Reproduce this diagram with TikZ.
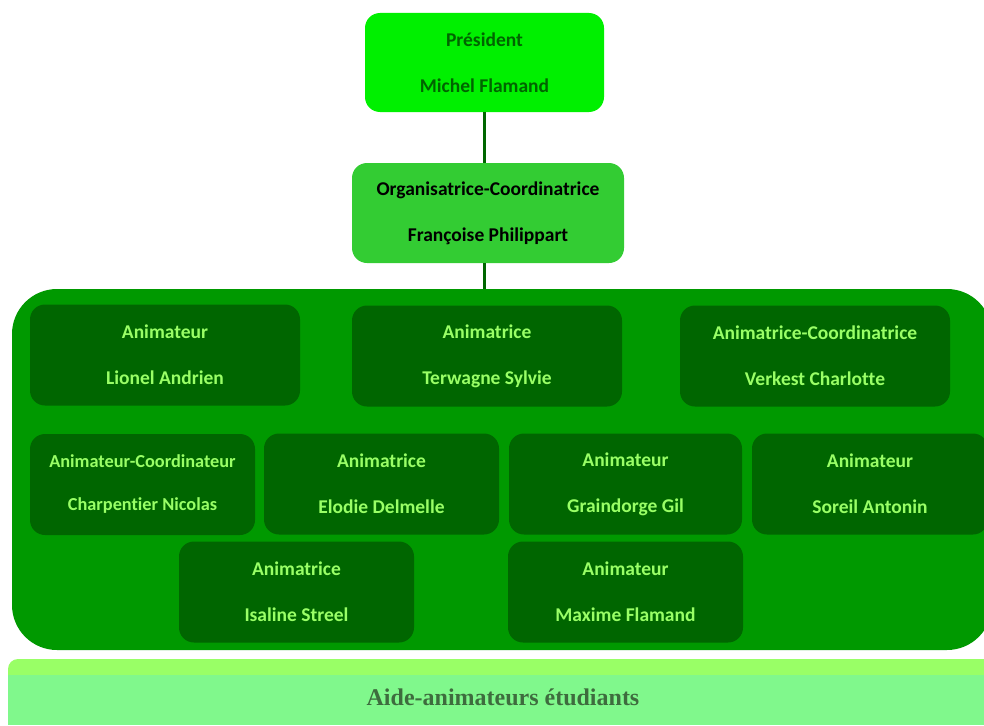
\documentclass[tikz,border=0pt]{standalone}
\usepackage{fontspec}
\setmainfont[Ligatures=NoCommon]{Carlito}
\newfontfamily\bandfont{Liberation Serif}
\usepackage{tikz}
\usetikzlibrary{%
  calc,%
  positioning%
}
\definecolor{presfill}{RGB}{0,240,0}
\definecolor{presink}{RGB}{0,100,0}
\definecolor{orgafill}{RGB}{51,204,51}
\definecolor{teamfill}{RGB}{0,153,0}
\definecolor{animfill}{RGB}{0,102,0}
\definecolor{animink}{RGB}{153,255,102}
\definecolor{bandtop}{RGB}{153,255,102}
\definecolor{bandfill}{RGB}{128,248,140}
\definecolor{bandink}{RGB}{62,108,62}

\begin{document}
\begin{tikzpicture}[x=1pt,y=-1pt,
  box/.style={rectangle,rounded corners=15pt,inner sep=0pt,align=center,
    font=\bfseries\fontsize{19.5}{46}\selectfont},
  anim/.style={box,fill=animfill,text=animink,minimum height=101pt},
  link/.style={draw=animfill,line width=3pt}]

\useasboundingbox (0,0) rectangle (984,725);
\clip (0,0) rectangle (984,725);

\node[box,fill=presfill,text=presink,minimum width=239pt,minimum height=99pt] (pres) at (484.5,62.5) {Président\\Michel Flamand};
\node[box,fill=orgafill,text=black,minimum width=272pt,minimum height=100pt] (orga) at (488,213) {Organisatrice-Coordinatrice\\Françoise Philippart};
\node[rectangle,rounded corners=45pt,fill=teamfill,minimum width=980pt,minimum height=361pt,inner sep=0pt] (team) at (502,469.5) {};

\draw[link] (pres.south -| 484,0) -- (orga.north -| 484,0)
            (orga.south -| 484,0) -- (team.north -| 484,0);

% first row
\node[anim,minimum width=270pt] (a1) at (165,355) {Animateur\\Lionel Andrien};
\node[anim,minimum width=270pt] (a2) at (487,356) {Animatrice\\Terwagne Sylvie};
\node[anim,minimum width=270pt] (a3) at (815,356) {Animatrice-Coordinatrice\\Verkest Charlotte};
% second row
\node[anim,minimum width=225pt,font=\bfseries\fontsize{18.3}{43}\selectfont] (b1) at (142.5,484.5) {Animateur-Coordinateur\\Charpentier Nicolas};
\node[anim,minimum width=235pt] (b2) at (381.5,484) {Animatrice\\Elodie Delmelle};
\node[anim,minimum width=233pt] (b3) at (625.5,484) {Animateur\\Graindorge Gil};
\node[anim,minimum width=236pt] (b4) at (870,484) {Animateur\\Soreil Antonin};
% third row
\node[anim,minimum width=235pt] (c1) at (296.5,592) {Animatrice\\Isaline Streel};
\node[anim,minimum width=235pt] (c2) at (625.5,592) {Animateur\\Maxime Flamand};

% aide-animateurs band
\fill[bandtop,rounded corners=10pt] (8,659) rectangle (1000,700);
\fill[bandfill] (8,675) rectangle (1000,725);
\node[text=bandink,font=\bandfont\bfseries\fontsize{24}{28}\selectfont] (band) at (503,697) {Aide-animateurs étudiants};

\end{tikzpicture}
\end{document}
